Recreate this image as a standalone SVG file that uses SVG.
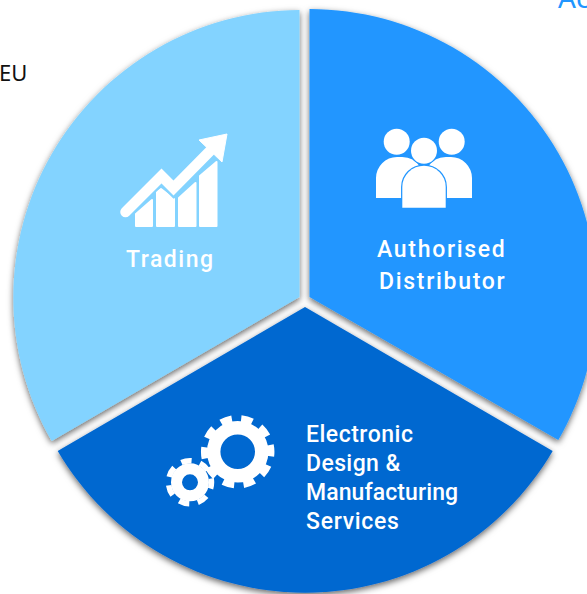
<svg xmlns="http://www.w3.org/2000/svg" width="587" height="594" viewBox="0 0 587 594">
<style>
.lbl{font-family:"Roboto","Liberation Sans",sans-serif;font-size:23px;font-weight:500;fill:#fff}
.w{fill:#fff}
.wedge{filter:url(#sh)}
</style>
<defs>
<filter id="sh" x="-5%" y="-5%" width="110%" height="110%">
<feDropShadow dx="0" dy="2.500" stdDeviation="3" flood-color="#000" flood-opacity="0.6"/>
</filter>
</defs>
<rect width="587" height="594" fill="#fff"/>
<g id="connectors"/>
<text x="-1" y="81" font-family="Noto Sans, sans-serif" font-size="22" fill="#111">EU</text>
<text x="558" y="8" font-family="Noto Sans, sans-serif" font-size="28" fill="#2196FF">Ac</text>
<g id="trading">
<path class="wedge" fill="#83D3FF" d="M299.500 10V297L51.700 441A287.500 287.500 0 0 1 299.500 10Z"/>
<g class="w">
<path d="M136 226V214L152 200V226ZM157 226V192L161 189L174 199V226ZM179 226V198L195.500 183V226ZM200 226V176L216.500 162V226Z" stroke="#fff" stroke-width="2" stroke-linejoin="round"/>
<path d="M125.500 212L161.500 176L173.500 188L211 150" fill="none" stroke="#83D3FF" stroke-width="15" stroke-linejoin="miter"/>
<path d="M125.500 212L161.500 176L173.500 188L211 150" fill="none" stroke="#fff" stroke-width="10.500" stroke-linecap="round" stroke-linejoin="miter"/>
<path d="M199 140L227 134L222 162Z" stroke="#fff" stroke-linejoin="round"/>
</g>
<text class="lbl" x="126" y="267" letter-spacing="1.500">Trading</text>
</g>
<g id="authorised-distributor">
<path class="wedge" fill="#2196FF" d="M309.500 9V297L558.300 440A287.500 287.500 0 0 0 309.500 9Z"/>
<g class="w">
<circle cx="396.700" cy="141.700" r="13"/>
<circle cx="451.700" cy="141.700" r="13"/>
<path d="M376 198V178A21 21 0 0 1 397 157H402A21 21 0 0 1 420 167H428A21 21 0 0 1 446 157H451A21 21 0 0 1 472 178V198Z"/>
<path d="M402.300 207.700V187A21.700 21.300 0 0 1 424 165.700A21.700 21.300 0 0 1 445.700 187V207.700Z" stroke="#2196FF" stroke-width="2.500" paint-order="stroke"/>
<circle cx="424" cy="150.700" r="13" stroke="#2196FF" stroke-width="2.500" paint-order="stroke"/>
</g>
<text class="lbl" x="377" y="257" letter-spacing="1.700">Authorised</text>
<text class="lbl" x="379" y="289" letter-spacing="1.700">Distributor</text>
</g>
<g id="electronic-design-manufacturing-services">
<path class="wedge" fill="#0367D0" d="M305 307L552.700 451A287 287 0 0 1 57.700 451Z"/>
<g fill="none" stroke="#fff">
<circle cx="237.700" cy="451.700" r="24" stroke-width="13.400"/>
<circle cx="237.700" cy="451.700" r="33" stroke-width="7.500" pathLength="100" stroke-dasharray="5.500 4.500" stroke-dashoffset="3.300"/>
<circle cx="190" cy="482.300" r="13.500" stroke-width="11"/>
<circle cx="190" cy="482.300" r="21.500" stroke-width="5.500" pathLength="100" stroke-dasharray="7.800 6.486" stroke-dashoffset="3"/>
</g>
<text class="lbl" x="306" y="442" letter-spacing="0.500">Electronic</text>
<text class="lbl" x="306" y="471" letter-spacing="0.400">Design &amp;</text>
<text class="lbl" x="306" y="500" letter-spacing="0.100">Manufacturing</text>
<text class="lbl" x="306" y="529" letter-spacing="0.700">Services</text>
</g>
</svg>
